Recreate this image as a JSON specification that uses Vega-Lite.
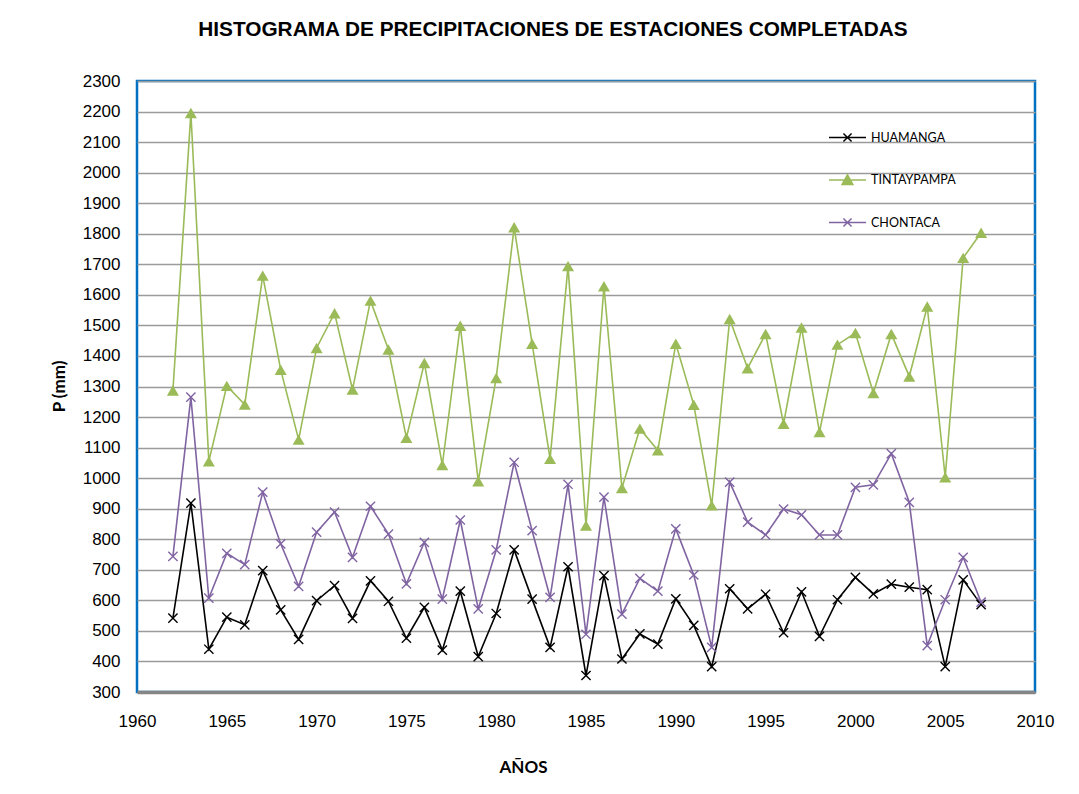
{
  "$schema": "https://vega.github.io/schema/vega-lite/v6.json",
  "width": 898,
  "height": 611,
  "autosize": {"type": "none"},
  "padding": {"left": 137, "top": 81, "right": 44, "bottom": 102},
  "background": "white",
  "title": {
    "text": "HISTOGRAMA DE PRECIPITACIONES DE ESTACIONES COMPLETADAS",
    "font": "Liberation Sans",
    "fontSize": 20.8,
    "fontWeight": "bold",
    "color": "#000000",
    "anchor": "middle",
    "dx": -33,
    "offset": 15,
    "baseline": "alphabetic"
  },
  "config": {
    "view": {"stroke": "#0070C0", "strokeWidth": 2.5},
    "axis": {"labelColor": "#000000", "titleColor": "#000000"}
  },
  "data": {
    "values": [
      {"year": 1962, "station": "HUAMANGA", "p": 542},
      {"year": 1963, "station": "HUAMANGA", "p": 918},
      {"year": 1964, "station": "HUAMANGA", "p": 440},
      {"year": 1965, "station": "HUAMANGA", "p": 545},
      {"year": 1966, "station": "HUAMANGA", "p": 520},
      {"year": 1967, "station": "HUAMANGA", "p": 697},
      {"year": 1968, "station": "HUAMANGA", "p": 569},
      {"year": 1969, "station": "HUAMANGA", "p": 472},
      {"year": 1970, "station": "HUAMANGA", "p": 599},
      {"year": 1971, "station": "HUAMANGA", "p": 648},
      {"year": 1972, "station": "HUAMANGA", "p": 541},
      {"year": 1973, "station": "HUAMANGA", "p": 664},
      {"year": 1974, "station": "HUAMANGA", "p": 597},
      {"year": 1975, "station": "HUAMANGA", "p": 476},
      {"year": 1976, "station": "HUAMANGA", "p": 577},
      {"year": 1977, "station": "HUAMANGA", "p": 437},
      {"year": 1978, "station": "HUAMANGA", "p": 630},
      {"year": 1979, "station": "HUAMANGA", "p": 416},
      {"year": 1980, "station": "HUAMANGA", "p": 557},
      {"year": 1981, "station": "HUAMANGA", "p": 765},
      {"year": 1982, "station": "HUAMANGA", "p": 604},
      {"year": 1983, "station": "HUAMANGA", "p": 446},
      {"year": 1984, "station": "HUAMANGA", "p": 710},
      {"year": 1985, "station": "HUAMANGA", "p": 354},
      {"year": 1986, "station": "HUAMANGA", "p": 681},
      {"year": 1987, "station": "HUAMANGA", "p": 408},
      {"year": 1988, "station": "HUAMANGA", "p": 490},
      {"year": 1989, "station": "HUAMANGA", "p": 457},
      {"year": 1990, "station": "HUAMANGA", "p": 605},
      {"year": 1991, "station": "HUAMANGA", "p": 518},
      {"year": 1992, "station": "HUAMANGA", "p": 383},
      {"year": 1993, "station": "HUAMANGA", "p": 638},
      {"year": 1994, "station": "HUAMANGA", "p": 572},
      {"year": 1995, "station": "HUAMANGA", "p": 620},
      {"year": 1996, "station": "HUAMANGA", "p": 494},
      {"year": 1997, "station": "HUAMANGA", "p": 628},
      {"year": 1998, "station": "HUAMANGA", "p": 482},
      {"year": 1999, "station": "HUAMANGA", "p": 602},
      {"year": 2000, "station": "HUAMANGA", "p": 675},
      {"year": 2001, "station": "HUAMANGA", "p": 621},
      {"year": 2002, "station": "HUAMANGA", "p": 653},
      {"year": 2003, "station": "HUAMANGA", "p": 643},
      {"year": 2004, "station": "HUAMANGA", "p": 635},
      {"year": 2005, "station": "HUAMANGA", "p": 383},
      {"year": 2006, "station": "HUAMANGA", "p": 667},
      {"year": 2007, "station": "HUAMANGA", "p": 586},
      {"year": 1962, "station": "TINTAYPAMPA", "p": 1287},
      {"year": 1963, "station": "TINTAYPAMPA", "p": 2195},
      {"year": 1964, "station": "TINTAYPAMPA", "p": 1055},
      {"year": 1965, "station": "TINTAYPAMPA", "p": 1302},
      {"year": 1966, "station": "TINTAYPAMPA", "p": 1241},
      {"year": 1967, "station": "TINTAYPAMPA", "p": 1663},
      {"year": 1968, "station": "TINTAYPAMPA", "p": 1355},
      {"year": 1969, "station": "TINTAYPAMPA", "p": 1126},
      {"year": 1970, "station": "TINTAYPAMPA", "p": 1426},
      {"year": 1971, "station": "TINTAYPAMPA", "p": 1540},
      {"year": 1972, "station": "TINTAYPAMPA", "p": 1290},
      {"year": 1973, "station": "TINTAYPAMPA", "p": 1581},
      {"year": 1974, "station": "TINTAYPAMPA", "p": 1421},
      {"year": 1975, "station": "TINTAYPAMPA", "p": 1132},
      {"year": 1976, "station": "TINTAYPAMPA", "p": 1377},
      {"year": 1977, "station": "TINTAYPAMPA", "p": 1043},
      {"year": 1978, "station": "TINTAYPAMPA", "p": 1499},
      {"year": 1979, "station": "TINTAYPAMPA", "p": 990},
      {"year": 1980, "station": "TINTAYPAMPA", "p": 1328},
      {"year": 1981, "station": "TINTAYPAMPA", "p": 1821},
      {"year": 1982, "station": "TINTAYPAMPA", "p": 1440},
      {"year": 1983, "station": "TINTAYPAMPA", "p": 1063},
      {"year": 1984, "station": "TINTAYPAMPA", "p": 1694},
      {"year": 1985, "station": "TINTAYPAMPA", "p": 845},
      {"year": 1986, "station": "TINTAYPAMPA", "p": 1628},
      {"year": 1987, "station": "TINTAYPAMPA", "p": 968},
      {"year": 1988, "station": "TINTAYPAMPA", "p": 1162},
      {"year": 1989, "station": "TINTAYPAMPA", "p": 1091},
      {"year": 1990, "station": "TINTAYPAMPA", "p": 1440},
      {"year": 1991, "station": "TINTAYPAMPA", "p": 1240},
      {"year": 1992, "station": "TINTAYPAMPA", "p": 911},
      {"year": 1993, "station": "TINTAYPAMPA", "p": 1521},
      {"year": 1994, "station": "TINTAYPAMPA", "p": 1360},
      {"year": 1995, "station": "TINTAYPAMPA", "p": 1472},
      {"year": 1996, "station": "TINTAYPAMPA", "p": 1178},
      {"year": 1997, "station": "TINTAYPAMPA", "p": 1493},
      {"year": 1998, "station": "TINTAYPAMPA", "p": 1151},
      {"year": 1999, "station": "TINTAYPAMPA", "p": 1437},
      {"year": 2000, "station": "TINTAYPAMPA", "p": 1475},
      {"year": 2001, "station": "TINTAYPAMPA", "p": 1279},
      {"year": 2002, "station": "TINTAYPAMPA", "p": 1472},
      {"year": 2003, "station": "TINTAYPAMPA", "p": 1333},
      {"year": 2004, "station": "TINTAYPAMPA", "p": 1562},
      {"year": 2005, "station": "TINTAYPAMPA", "p": 1003},
      {"year": 2006, "station": "TINTAYPAMPA", "p": 1721},
      {"year": 2007, "station": "TINTAYPAMPA", "p": 1803},
      {"year": 1962, "station": "CHONTACA", "p": 744},
      {"year": 1963, "station": "CHONTACA", "p": 1265},
      {"year": 1964, "station": "CHONTACA", "p": 607},
      {"year": 1965, "station": "CHONTACA", "p": 754},
      {"year": 1966, "station": "CHONTACA", "p": 717},
      {"year": 1967, "station": "CHONTACA", "p": 954},
      {"year": 1968, "station": "CHONTACA", "p": 785},
      {"year": 1969, "station": "CHONTACA", "p": 646},
      {"year": 1970, "station": "CHONTACA", "p": 823},
      {"year": 1971, "station": "CHONTACA", "p": 889},
      {"year": 1972, "station": "CHONTACA", "p": 741},
      {"year": 1973, "station": "CHONTACA", "p": 908},
      {"year": 1974, "station": "CHONTACA", "p": 817},
      {"year": 1975, "station": "CHONTACA", "p": 654},
      {"year": 1976, "station": "CHONTACA", "p": 790},
      {"year": 1977, "station": "CHONTACA", "p": 604},
      {"year": 1978, "station": "CHONTACA", "p": 863},
      {"year": 1979, "station": "CHONTACA", "p": 572},
      {"year": 1980, "station": "CHONTACA", "p": 765},
      {"year": 1981, "station": "CHONTACA", "p": 1052},
      {"year": 1982, "station": "CHONTACA", "p": 828},
      {"year": 1983, "station": "CHONTACA", "p": 610},
      {"year": 1984, "station": "CHONTACA", "p": 980},
      {"year": 1985, "station": "CHONTACA", "p": 489},
      {"year": 1986, "station": "CHONTACA", "p": 938},
      {"year": 1987, "station": "CHONTACA", "p": 555},
      {"year": 1988, "station": "CHONTACA", "p": 672},
      {"year": 1989, "station": "CHONTACA", "p": 630},
      {"year": 1990, "station": "CHONTACA", "p": 834},
      {"year": 1991, "station": "CHONTACA", "p": 683},
      {"year": 1992, "station": "CHONTACA", "p": 446},
      {"year": 1993, "station": "CHONTACA", "p": 987},
      {"year": 1994, "station": "CHONTACA", "p": 856},
      {"year": 1995, "station": "CHONTACA", "p": 814},
      {"year": 1996, "station": "CHONTACA", "p": 899},
      {"year": 1997, "station": "CHONTACA", "p": 880},
      {"year": 1998, "station": "CHONTACA", "p": 814},
      {"year": 1999, "station": "CHONTACA", "p": 814},
      {"year": 2000, "station": "CHONTACA", "p": 970},
      {"year": 2001, "station": "CHONTACA", "p": 978},
      {"year": 2002, "station": "CHONTACA", "p": 1080},
      {"year": 2003, "station": "CHONTACA", "p": 921},
      {"year": 2004, "station": "CHONTACA", "p": 452},
      {"year": 2005, "station": "CHONTACA", "p": 602},
      {"year": 2006, "station": "CHONTACA", "p": 741},
      {"year": 2007, "station": "CHONTACA", "p": 594}
    ]
  },
  "encoding": {
    "x": {
      "field": "year",
      "type": "quantitative",
      "scale": {"domain": [1960, 2010], "nice": false, "zero": false},
      "axis": {
        "values": [1960, 1965, 1970, 1975, 1980, 1985, 1990, 1995, 2000, 2005, 2010],
        "format": "d",
        "grid": false,
        "ticks": false,
        "tickSize": 0,
        "labelFont": "Liberation Sans",
        "labelFontSize": 17,
        "labelPadding": 21,
        "labelFlush": false,
        "domain": true,
        "domainColor": "#858585",
        "domainWidth": 3.5,
        "title": "AÑOS",
        "titleFont": "Lato",
        "titleFontSize": 17,
        "titleFontWeight": "bold",
        "titleX": 386,
        "titleY": 80,
        "titleBaseline": "alphabetic"
      }
    },
    "y": {
      "field": "p",
      "type": "quantitative",
      "scale": {"domain": [300, 2300], "nice": false, "zero": false},
      "axis": {
        "values": [300, 400, 500, 600, 700, 800, 900, 1000, 1100, 1200, 1300, 1400, 1500, 1600, 1700, 1800, 1900, 2000, 2100, 2200, 2300],
        "format": "d",
        "grid": true,
        "gridColor": "#9a9a9a",
        "gridWidth": 1.4,
        "ticks": false,
        "tickSize": 0,
        "domain": false,
        "labelFont": "Liberation Sans",
        "labelFontSize": 17,
        "labelPadding": 17,
        "labelFlush": false,
        "title": "P (mm)",
        "titleFont": "Lato",
        "titleFontSize": 17,
        "titleFontWeight": "bold",
        "titleX": -73,
        "titleY": 305,
        "titleAngle": -90,
        "titleBaseline": "alphabetic"
      }
    },
    "color": {
      "field": "station",
      "type": "nominal",
      "sort": ["HUAMANGA", "TINTAYPAMPA", "CHONTACA"],
      "scale": {"domain": ["HUAMANGA", "TINTAYPAMPA", "CHONTACA"], "range": ["#000000", "#9BBB59", "#8064A2"]},
      "legend": {
        "orient": "none",
        "legendX": 691,
        "legendY": 37,
        "title": null,
        "padding": 0,
        "labelFont": "Lato",
        "labelFontSize": 12.5,
        "labelColor": "#000000",
        "labelOffset": 4,
        "symbolSize": 1369,
        "symbolStrokeWidth": 1.5,
        "rowPadding": 15.5,
        "encode": {
          "symbols": {
            "update": {
              "shape": {"signal": "datum.value === 'TINTAYPAMPA' ? 'M-1,0H1M-0.29,0.24L0,-0.28L0.29,0.24Z' : 'M-1,0H1M-0.22,-0.22L0.22,0.22M-0.22,0.22L0.22,-0.22'"},
              "fill": {"signal": "datum.value === 'TINTAYPAMPA' ? '#9BBB59' : 'transparent'"}
            }
          }
        }
      }
    }
  },
  "layer": [
    {
      "mark": {"type": "line", "strokeWidth": 1.6},
      "encoding": {"detail": {"field": "station"}}
    },
    {
      "transform": [{"filter": "datum.station !== 'TINTAYPAMPA'"}],
      "mark": {"type": "point", "shape": "M-1,-1L1,1M-1,1L1,-1", "filled": false, "size": 85, "strokeWidth": 1.4, "opacity": 1}
    },
    {
      "transform": [{"filter": "datum.station === 'TINTAYPAMPA'"}],
      "mark": {"type": "point", "shape": "triangle-up", "filled": true, "size": 145, "opacity": 1}
    }
  ]
}
